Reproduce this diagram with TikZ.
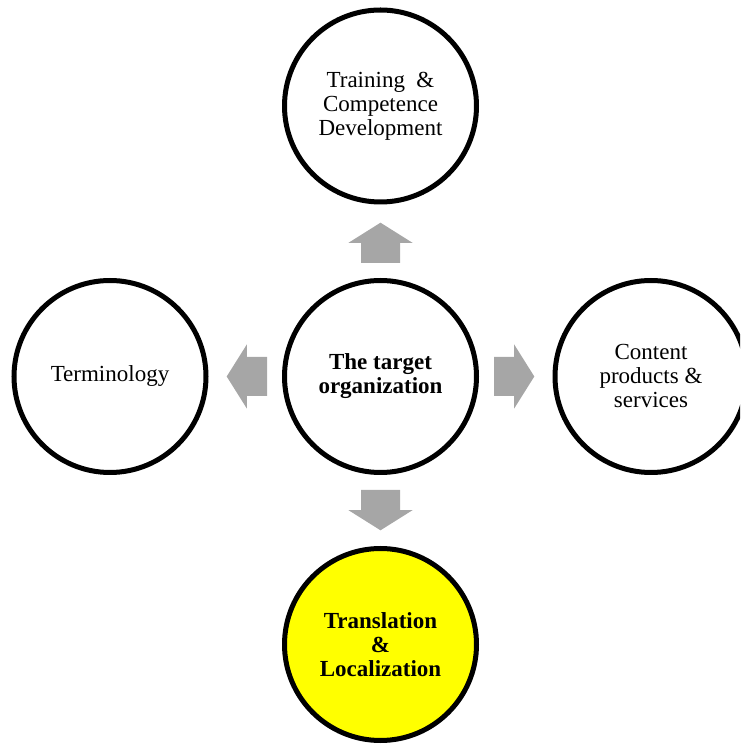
\documentclass[tikz,border=0pt]{standalone}
\usepackage{fontspec}
\setmainfont{Liberation Serif}
\begin{document}
\begin{tikzpicture}[x=1pt,y=1pt,
  bubble/.style={circle, draw=black, line width=5pt, minimum size=192pt,
    inner sep=0pt, align=center, fill=white,
    font=\fontsize{23}{24}\selectfont},
  keybubble/.style={bubble, font=\fontsize{23}{24}\selectfont\bfseries},
  blockarrow/.style={fill=arrowgray}]
\definecolor{arrowgray}{RGB}{166,166,166}
\definecolor{hilite}{RGB}{255,255,0}
\useasboundingbox (0,0) rectangle (740,745);
\clip (0,0) rectangle (740,745);

% centre and the four satellite circles
\node[keybubble] (mid) at (380.5,368.5) {The target\\organization};
\node[bubble] (top) at (380.5,639) {Training \ \&\\Competence\\Development};
\node[bubble] (left) at (110,368.5) {Terminology};
\node[bubble] (right) at (651,368.5) {Content\\products \&\\services};
\node[keybubble, fill=hilite] (bottom) at (380.5,100.5) {Translation\\\&\\Localization};

% block arrows pointing outwards from the centre
\foreach \a in {0,90,180,270}
  \fill[blockarrow, shift={(mid.center)}, rotate=\a]
    (113.5,-19.5) -- (133.7,-19.5) -- (133.7,-32) -- (153.8,0)
    -- (133.7,32) -- (133.7,19.5) -- (113.5,19.5) -- cycle;
\end{tikzpicture}
\end{document}
